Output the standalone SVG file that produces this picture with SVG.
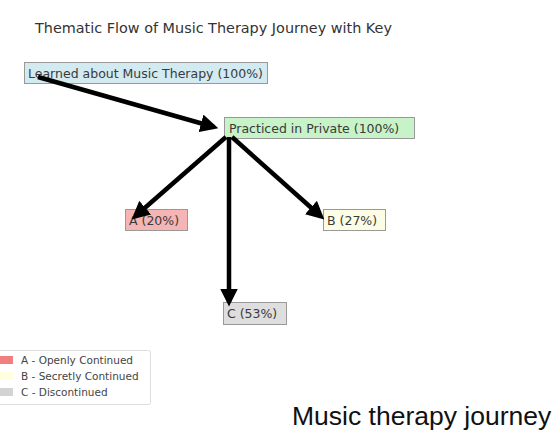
<svg xmlns="http://www.w3.org/2000/svg" width="560" height="432" viewBox="0 0 560 432">
<style>
.t{font-family:"DejaVu Sans",sans-serif;fill:#333}
.n{font-family:"DejaVu Sans",sans-serif;font-size:12.5px;fill:#3a3a3a}
.box{stroke:#999;stroke-width:1}
.lg{font-family:"DejaVu Sans",sans-serif;font-size:10.5px;fill:#444}
.e{stroke:#000;stroke-width:4.5;fill:none;stroke-linecap:butt}
</style>
<defs>
<marker id="ah" markerWidth="4" markerHeight="4" refX="3" refY="2" orient="auto" markerUnits="strokeWidth">
<path d="M0,0 L4,2 L0,4 Z" fill="#000"/>
</marker>
</defs>
<rect width="560" height="432" fill="#fff"/>
<text class="t" x="35" y="32.5" font-size="14.4">Thematic Flow of Music Therapy Journey with Key</text>
<g id="n1"><rect class="box" x="24.5" y="62.5" width="243" height="21" fill="#d3eaf1"/><text class="n" x="28" y="77.5">Learned about Music Therapy (100%)</text></g>
<g id="n2"><rect class="box" x="224.5" y="117.5" width="190" height="21" fill="#c8f2c8"/><text class="n" x="229" y="132.5">Practiced in Private (100%)</text></g>
<g id="nA"><rect class="box" x="125.5" y="209.5" width="62" height="21" fill="#f5b5b5"/><text class="n" x="129" y="224.5">A (20%)</text></g>
<g id="nB"><rect class="box" x="323.5" y="209.5" width="62" height="21" fill="#fdfde6"/><text class="n" x="327" y="224.5">B (27%)</text></g>
<g id="nC"><rect class="box" x="223.5" y="302.5" width="63" height="22" fill="#dedede"/><text class="n" x="227" y="318">C (53%)</text></g>
<g id="edges">
<line class="e" x1="38" y1="77" x2="214" y2="127" marker-end="url(#ah)"/>
<line class="e" x1="226" y1="137" x2="135" y2="216.5" marker-end="url(#ah)"/>
<line class="e" x1="229" y1="137" x2="229" y2="302" marker-end="url(#ah)"/>
<line class="e" x1="232" y1="137" x2="321" y2="216.5" marker-end="url(#ah)"/>
</g>
<g id="legend">
<rect x="-5.5" y="350.5" width="156" height="54" rx="2" fill="#fff" stroke="#ddd"/>
<rect x="0" y="356" width="13" height="8" fill="#f08080"/>
<rect x="0" y="372" width="13" height="8" fill="#ffffe0"/>
<rect x="0" y="388" width="13" height="8" fill="#d3d3d3"/>
<text class="lg" x="21" y="364">A - Openly Continued</text>
<text class="lg" x="21" y="380">B - Secretly Continued</text>
<text class="lg" x="21" y="396">C - Discontinued</text>
</g>
<text x="292" y="425" font-family="Liberation Sans, Arial, sans-serif" font-size="26.5" fill="#111">Music therapy journey</text>
</svg>
